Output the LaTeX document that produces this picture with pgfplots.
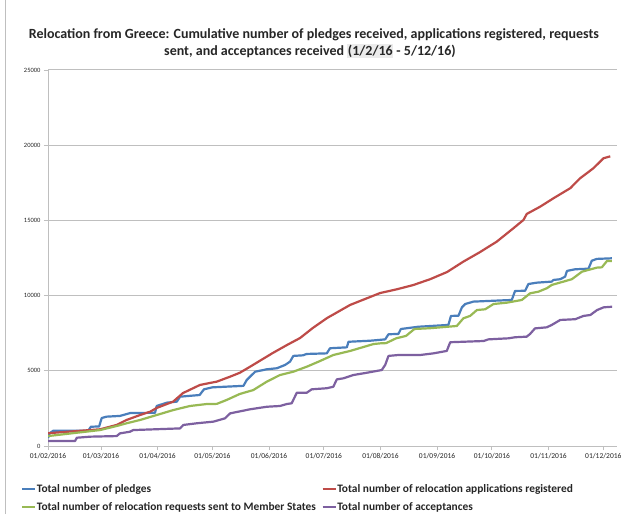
\documentclass[border=0pt]{standalone}
\usepackage{fontspec}
\setmainfont{Carlito}
\usepackage{pgfplots}
\pgfplotsset{compat=1.18}

\definecolor{pledges}{HTML}{4A7EBB}
\definecolor{applic}{HTML}{BE4B48}
\definecolor{requests}{HTML}{98B954}
\definecolor{accept}{HTML}{7D60A0}
\definecolor{gridgray}{HTML}{BFBFBF}
\definecolor{txt}{HTML}{262626}

\begin{document}
\begin{tikzpicture}
\useasboundingbox (0pt,0pt) rectangle (621pt,514pt);
\fill[white] (0pt,0pt) rectangle (621pt,514pt);
\draw[gridgray, line width=1pt] (5pt,0pt) -- (5pt,514pt);

% title, two lines
\node[font=\fontsize{14}{17}\selectfont\bfseries, text=txt, text height=9.5pt, text depth=3pt]
  at (314pt,479pt) {Relocation from Greece: Cumulative number of pledges received, applications registered, requests};
\node[font=\fontsize{14}{17}\selectfont\bfseries, text=txt, text height=9.5pt, text depth=3pt]
  at (310pt,462pt) {sent, and acceptances received {\setlength\fboxsep{0.6pt}\colorbox{black!8}{(1/2/16}} - 5/12/16)};

\begin{axis}[
    at={(48pt,68pt)}, anchor=origin,
    scale only axis, width=569pt, height=376pt,
    xmin=0, xmax=311.5,
    ymin=0, ymax=25000,
    axis x line=bottom, axis y line=left,
    axis line style={-, gridgray, line width=1pt},
    xtick={0,29,60,90,121,151,182,213,243,274,304},
    xticklabels={01/02/2016,01/03/2016,01/04/2016,01/05/2016,01/06/2016,01/07/2016,01/08/2016,01/09/2016,01/10/2016,01/11/2016,01/12/2016},
    ytick={0,5000,10000,15000,20000,25000},
    ymajorgrids,
    grid style={gridgray, line width=1pt},
    tick align=outside, major tick length=4pt,
    tick style={gridgray, line width=0.8pt},
    x tick label style={font=\fontsize{7.5}{9}\selectfont, text=txt},
    y tick label style={font=\fontsize{6.5}{8}\selectfont, text=txt},
    /pgf/number format/assume math mode=true,
    /pgf/number format/set thousands separator={},
    scaled y ticks=false,
    legend columns=2,
    legend cell align=left,
    legend style={at={(-0.053,-0.095)}, anchor=north west, draw=none, fill=none,
        font=\fontsize{11.4}{13}\selectfont\bfseries, text=txt, row sep=7pt,
        nodes={inner sep=0.6pt},
        /tikz/every even column/.append style={column sep=5pt}},
    legend image code/.code={\draw[#1, line width=2.2pt] (0pt,0pt) -- (13pt,0pt);},
    every axis plot/.append style={line width=2.2pt, line join=round},
]

% Total number of pledges
\addplot[pledges] coordinates {
(0,530) (1,860) (3,1020) (22,1020) (23.5,1280) (28,1300) (29.4,1860) (32,1950)
(39.4,2000) (45,2190) (58.6,2210) (59.5,2660) (65,2880) (70.5,2950) (72.3,3280)
(83,3390) (85.4,3770) (90,3900) (107,4000) (108.8,4390) (113.4,4940) (119.8,5100)
(125.3,5170) (129.8,5390) (132.5,5610) (134.3,5990) (139.6,6030) (141.6,6120)
(152.6,6160) (154.4,6500) (163.6,6560) (164.5,6930) (176.4,7000) (184.6,7090)
(186.4,7430) (191.8,7450) (193.2,7780) (202.8,7930) (219.2,8050) (220.6,8650)
(224.7,8660) (226.6,9220) (228.4,9440) (232.9,9600) (253.9,9710) (255.7,10310)
(261.2,10320) (263,10770) (267.6,10860) (275.8,10930) (276.7,11040) (280.4,11090)
(283.1,11260) (284.1,11640) (288.6,11750) (295.9,11790) (297.7,12320) (300.5,12440)
(308.7,12480)
};
\addlegendentry{Total number of pledges}

% Total number of relocation applications registered
\addplot[applic] coordinates {
(0,850) (28.5,1110) (37.6,1400) (43,1730) (50.4,2060) (55.9,2280) (59.5,2530)
(68.5,2950) (73.9,3520) (83.2,4060) (92.4,4280) (99.7,4610) (105,4870) (110.6,5270)
(123,6180) (130.9,6720) (138,7180) (145,7850) (152.8,8510) (165.4,9380) (181.8,10170)
(191,10420) (199.9,10700) (209.2,11090) (218.5,11570) (227.4,12260) (236.6,12900)
(245.7,13590) (254.8,14480) (260.3,15030) (262.1,15430) (269.4,15910) (276.7,16470)
(285.9,17140) (291.3,17800) (298.6,18470) (304.1,19130) (307.8,19260)
};
\addlegendentry{Total number of relocation applications registered}

% Total number of relocation requests sent to Member States
\addplot[requests] coordinates {
(0,660) (28.5,1060) (37.6,1330) (43,1510) (50.4,1730) (59.5,2060) (68.6,2390)
(77.7,2660) (86.8,2790) (92.4,2800) (97.8,3060) (105,3460) (112.4,3720) (119.8,4280)
(127,4720) (134.3,4940) (141.6,5270) (148.9,5650) (156.2,6050) (165.4,6320)
(178.2,6780) (182.4,6830) (185.1,6840) (190.6,7160) (196,7320) (200.6,7780)
(209,7830) (223.8,7980) (227.4,8490) (231.1,8650) (234.8,9040) (239.3,9090)
(243.9,9440) (251.2,9530) (259.4,9710) (263.9,10150) (268.5,10260) (273.1,10490)
(275.8,10710) (282.2,10930) (286.8,11090) (292.3,11590) (300.5,11860) (303.2,11880)
(306,12300) (308.7,12300)
};
\addlegendentry{Total number of relocation requests sent to Member States}

% Total number of acceptances
\addplot[accept] coordinates {
(0,330) (14.8,330) (15.8,550) (23,620) (37.6,660) (39.4,840) (44.9,950) (46.7,1060)
(72.3,1170) (74.1,1400) (81.4,1510) (90.6,1620) (96.9,1840) (99.7,2170) (110.6,2440)
(119.8,2610) (127,2660) (130.7,2790) (133.4,2840) (136.2,3540) (141.6,3540)
(144.4,3770) (152.6,3840) (156.2,3940) (158.1,4430) (161.7,4500) (167.2,4720)
(174.5,4870) (182.7,5050) (184.6,5390) (186.4,5990) (191.8,6050) (203.7,6050)
(211,6160) (218.3,6320) (220.2,6900) (238.4,6980) (241.1,7090) (252.1,7160)
(255.7,7230) (262.1,7270) (263.9,7450) (266.6,7820) (273,7890) (275.8,8050)
(280.4,8380) (288.6,8430) (293.2,8650) (296.9,8710) (300.6,9040) (304.2,9220)
(308.8,9260)
};
\addlegendentry{Total number of acceptances}

\end{axis}
\end{tikzpicture}
\end{document}
